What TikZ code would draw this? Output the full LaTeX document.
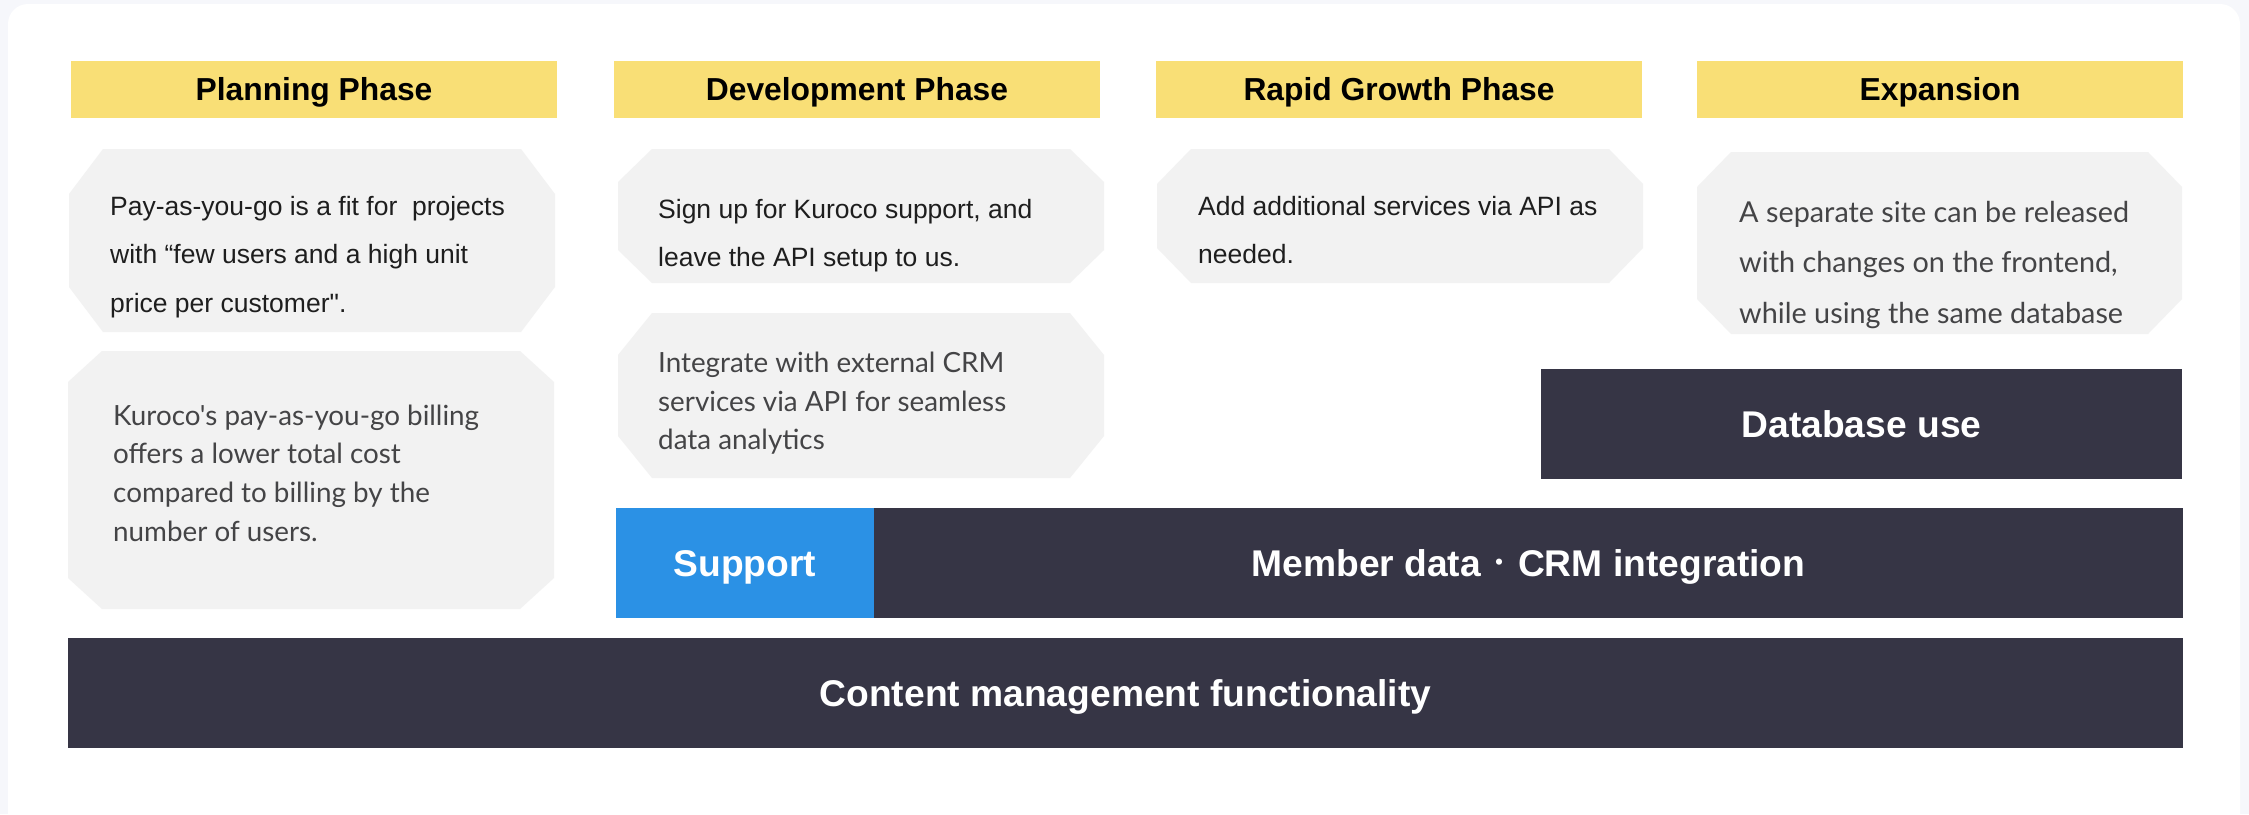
\documentclass[tikz,border=0pt]{standalone}
\usepackage{fontspec}
\newfontfamily\arial{Liberation Sans}
\newfontfamily\rob{Lato}
\newfontfamily\cjk{Noto Sans CJK JP}
\definecolor{bgC}{HTML}{F6F7FB}
\definecolor{hdrC}{HTML}{F9DF76}
\definecolor{boxC}{HTML}{F2F2F2}
\definecolor{darkC}{HTML}{363545}
\definecolor{blueC}{HTML}{2B91E5}
\definecolor{atxtC}{HTML}{1E1E1E}
\definecolor{rtxtC}{HTML}{444446}
\newcommand\octbox[5]{%
  \fill[boxC] ({#1+34},#2) -- ({#3-34},#2) -- (#3,{#2+#5}) -- (#3,{#4-#5}) --
    ({#3-34},#4) -- ({#1+34},#4) -- (#1,{#4-#5}) -- (#1,{#2+#5}) -- cycle;}
\newcommand\middot{\makebox[37pt]{\raisebox{5.7pt}{\cjk\fontsize{22}{22}\selectfont ・}}}
\begin{document}
\begin{tikzpicture}[x=1pt,y=-1pt,
  hdr/.style={fill=hdrC, minimum width=486, minimum height=57, inner sep=0pt,
    text height=22.8pt, text depth=0pt, text=black,
    font=\arial\fontsize{31.8}{36}\selectfont\bfseries},
  bar/.style={fill=#1, minimum height=110, inner sep=0pt,
    text height=26.6pt, text depth=0pt, text=white,
    font=\arial\fontsize{37.2}{42}\selectfont\bfseries},
  atxt/.style={anchor=base west, inner sep=0pt, text=atxtC,
    font=\arial\fontsize{26.5}{30}\selectfont},
  rtxt/.style={anchor=base west, inner sep=0pt, text=rtxtC,
    font=\rob\fontsize{27.8}{30}\selectfont},
  rtxtb/.style={rtxt, font=\rob\fontsize{28.8}{30}\selectfont}]
\useasboundingbox (0,0) rectangle (2249,814);
\begin{scope}
\clip (0,0) rectangle (2249,814);
\fill[bgC] (0,0) rectangle (2249,814);
\fill[white, rounded corners=20] (8,4) rectangle (2240,860);
\end{scope}
% headers
\node[hdr] (h1) at (314,89.5) {Planning Phase};
\node[hdr] (h2) at (857,89.5) {Development Phase};
\node[hdr] (h3) at (1399,89.5) {Rapid Growth Phase};
\node[hdr] (h4) at (1940,89.5) {Expansion};
% grey boxes
\octbox{69}{149}{555}{332}{45}
\octbox{68}{351}{554}{609}{31}
\octbox{618}{149}{1104}{283}{33}
\octbox{618}{313}{1104}{478}{42}
\octbox{1157}{149}{1643}{283}{35}
\octbox{1697}{152}{2182}{334}{35}
% texts
\node[atxt] (t1a) at (110,215) {Pay-as-you-go is a fit for\ \ projects};
\node[atxt] (t1b) at (110,263) {with “few users and a high unit};
\node[atxt] (t1c) at (110,312) {price per customer".};
\node[rtxt] (t2a) at (113,425) {Kuroco's pay-as-you-go billing};
\node[rtxt] (t2b) at (113,463) {offers a lower total cost};
\node[rtxt] (t2c) at (113,502) {compared to billing by the};
\node[rtxt] (t2d) at (113,541) {number of users.};
\node[atxt] (t3a) at (658,218) {Sign up for Kuroco support, and};
\node[atxt] (t3b) at (658,266) {leave the API setup to us.};
\node[rtxt] (t4a) at (658,372) {Integrate with external CRM};
\node[rtxt] (t4b) at (658,411) {services via API for seamless};
\node[rtxt] (t4c) at (658,449) {data analytics};
\node[atxt] (t5a) at (1198,215) {Add additional services via API as};
\node[atxt] (t5b) at (1198,263) {needed.};
\node[rtxtb] (t6a) at (1739,222) {A separate site can be released};
\node[rtxtb] (t6b) at (1739,272) {with changes on the frontend,};
\node[rtxtb] (t6c) at (1739,323) {while using the same database};
% bars
\node[bar=darkC, minimum width=641] (db) at (1861.5,424) {Database use};
\node[bar=blueC, minimum width=258] (sup) at (745,563) {Support};
\node[bar=darkC, minimum width=1309] (mem) at (1528.5,563) {Member data\middot CRM integration};
\node[bar=darkC, minimum width=2115] (cms) at (1125.5,693) {Content management functionality};
\end{tikzpicture}
\end{document}
